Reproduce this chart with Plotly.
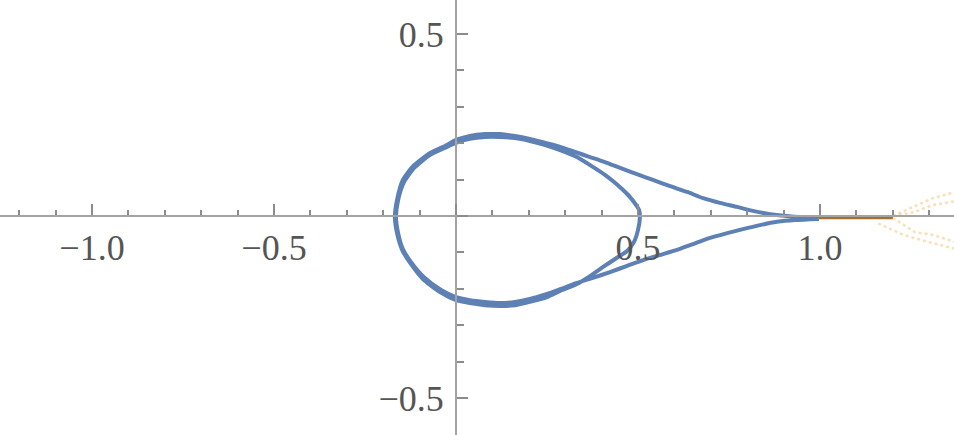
import plotly.graph_objects as go

# Blue trajectory (one continuous path)
curve_x = [0.997, 0.945, 0.909, 0.863, 0.816, 0.772, 0.725, 0.679, 0.635, 0.588, 0.541, 0.497,
           0.451, 0.409, 0.368, 0.327, 0.286, 0.245, 0.203, 0.162, 0.121, 0.080, 0.038, 0.0,
           -0.025, -0.071, -0.118, -0.146, -0.162, -0.168, -0.162, -0.148, -0.126, -0.091, -0.044, 0.0, 0.038,
           0.080, 0.121, 0.162, 0.203, 0.250, 0.286,
           0.332, 0.368, 0.404, 0.437, 0.470, 0.489, 0.500, 0.505, 0.503, 0.495, 0.478, 0.456, 0.431, 0.409,
           0.376, 0.332, 0.286, 0.245, 0.203, 0.162, 0.121, 0.080, 0.038, 0.0,
           -0.025, -0.071, -0.115, -0.143, -0.159, -0.165, -0.159, -0.146, -0.124, -0.088, -0.041, 0.0, 0.038,
           0.080, 0.121, 0.162, 0.203, 0.250, 0.286,
           0.332, 0.376, 0.423, 0.470, 0.514, 0.560, 0.607, 0.651, 0.698, 0.745, 0.788, 0.835, 0.882, 0.931, 0.997]
curve_y = [-0.005, -0.003, 0.000, 0.005, 0.014, 0.025, 0.036, 0.049, 0.066, 0.082, 0.099, 0.115,
           0.132, 0.148, 0.162, 0.176, 0.190, 0.201, 0.212, 0.220, 0.225, 0.225, 0.220, 0.209,
           0.195, 0.173, 0.137, 0.099, 0.044, -0.003, -0.047, -0.093, -0.129, -0.173, -0.209, -0.231, -0.239,
           -0.245, -0.247, -0.245, -0.236, -0.223, -0.206,
           -0.187, -0.165, -0.140, -0.118, -0.096, -0.071, -0.038, -0.005, 0.016, 0.030, 0.052, 0.074, 0.096, 0.113,
           0.135, 0.162, 0.181, 0.195, 0.206, 0.214, 0.217, 0.217, 0.212, 0.201,
           0.190, 0.168, 0.132, 0.093, 0.044, -0.003, -0.047, -0.091, -0.126, -0.168, -0.203, -0.223, -0.231,
           -0.236, -0.239, -0.236, -0.228, -0.214, -0.201,
           -0.184, -0.170, -0.154, -0.137, -0.121, -0.107, -0.093, -0.077, -0.060, -0.047, -0.036, -0.025, -0.016, -0.011, -0.008]

# Orange continuation beyond x = 1
orange_solid_x = [0.997, 1.10, 1.20]
orange_solid_y = [-0.005, -0.005, -0.005]
orange_rays_x = [
    [1.20, 1.25, 1.31, 1.37],
    [1.20, 1.26, 1.31, 1.37],
    [1.20, 1.26, 1.31, 1.37],
    [1.16, 1.23, 1.30, 1.37],
]
orange_rays_y = [
    [0.000, 0.022, 0.049, 0.066],
    [0.000, 0.011, 0.030, 0.040],
    [-0.005, -0.044, -0.052, -0.071],
    [-0.020, -0.052, -0.072, -0.090],
]

x_ticks = [-1.0, -0.5, 0.0, 0.5, 1.0]
x_tick_text = ["\u22121.0", "\u22120.5", "", "0.5", "1.0"]
y_ticks = [-0.5, 0.0, 0.5]
y_tick_text = ["\u22120.5", "", "0.5"]

x_range = [-1.2527, 1.368]
y_range = [-0.6016, 0.5934]

BLUE = "#5E81B5"
AXIS = "#a3a3a3"
TICK = "#8c8c8c"
LABEL = "#555555"
FONT = "Liberation Serif"

fig = go.Figure()

fig.add_trace(go.Scatter(x=curve_x, y=curve_y, mode="lines",
                         line=dict(color=BLUE, width=4, shape="spline", smoothing=0.6),
                         showlegend=False, hoverinfo="skip"))

for rx, ry in zip(orange_rays_x, orange_rays_y):
    fig.add_trace(go.Scatter(x=rx, y=ry, mode="lines",
                             line=dict(color="rgba(245,175,80,0.4)", width=2.5, dash="dot"),
                             showlegend=False, hoverinfo="skip"))

fig.add_trace(go.Scatter(x=orange_solid_x, y=orange_solid_y, mode="lines",
                         line=dict(color="rgb(165,112,45)", width=3),
                         showlegend=False, hoverinfo="skip"))

x_zero_frac = (0 - y_range[0]) / (y_range[1] - y_range[0])
y_zero_frac = (0 - x_range[0]) / (x_range[1] - x_range[0])

fig.update_layout(
    width=954, height=435,
    margin=dict(l=0, r=0, t=0, b=0),
    paper_bgcolor="white", plot_bgcolor="white",
    font=dict(family=FONT, size=36, color=LABEL),
    xaxis=dict(range=x_range, domain=[0, 1], anchor="free", position=x_zero_frac,
               showgrid=False, zeroline=False, showline=True, linecolor=AXIS, linewidth=2,
               tickmode="array", tickvals=x_ticks, ticktext=x_tick_text,
               ticks="inside", ticklen=11, tickwidth=2, tickcolor=TICK,
               ticklabelstandoff=0,
               minor=dict(ticks="inside", ticklen=5, tickwidth=2, tickcolor=TICK, dtick=0.1, tick0=0),
               tickfont=dict(family=FONT, size=36, color=LABEL)),
    yaxis=dict(range=y_range, domain=[0, 1], anchor="free", position=y_zero_frac,
               showgrid=False, zeroline=False, showline=True, linecolor=AXIS, linewidth=2,
               tickmode="array", tickvals=y_ticks, ticktext=y_tick_text,
               ticks="inside", ticklen=11, tickwidth=2, tickcolor=TICK,
               ticklabelstandoff=4,
               minor=dict(ticks="inside", ticklen=7, tickwidth=2, tickcolor=TICK, dtick=0.1, tick0=0),
               tickfont=dict(family=FONT, size=36, color=LABEL)),
)

fig.write_html("out.html", config={"displayModeBar": False},
               post_script="document.body.style.margin='0';document.body.style.overflow='hidden';")
